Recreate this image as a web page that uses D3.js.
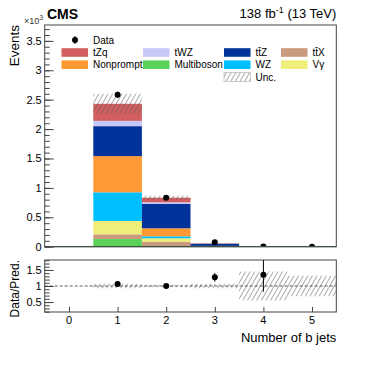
<!DOCTYPE html>
<html>
<head>
<meta charset="utf-8">
<script src="https://cdn.jsdelivr.net/npm/d3@7"></script>
<style>
  body { margin: 0; background: #fff; }
  svg { display: block; font-family: "Liberation Sans", Arial, sans-serif; }
</style>
</head>
<body>
<div id="chart-area"></div>
<script>
// values in units of 10^3 events, bins = number of b jets
var bins = [0, 1, 2, 3, 4, 5];
var multiboson = [0, 0.13, 0.01, 0.001, 0.0001, 0];
var ttX = [0, 0.08, 0.075, 0.006, 0.0005, 0.0001];
var vgamma = [0, 0.227, 0.058, 0.002, 0.0001, 0];
var wz = [0, 0.488, 0.034, 0.001, 0.0001, 0];
var nonprompt = [0, 0.615, 0.136, 0.004, 0.0002, 0.0001];
var ttZ = [0, 0.51, 0.413, 0.035, 0.0025, 0.0003];
var tWZ = [0, 0.09, 0.029, 0.003, 0.0002, 0];
var tZq = [0, 0.29, 0.078, 0.007, 0.0003, 0.0001];
var data = [null, 2.585, 0.833, 0.075, 0.0054, 0];
var dataErrLo = [0, 0.05, 0.029, 0.008, 0.0021, 0];
var dataErrHi = [0, 0.05, 0.029, 0.008, 0.004, 0];
var uncRel = [0, 0.07, 0.04, 0.07, 0.45, 0.32];
var mainTicks = [0, 0.5, 1, 1.5, 2, 2.5, 3, 3.5];
var ratioTicks = [0.5, 1, 1.5];

var procs = [
  {key: "multiboson", label: "Multiboson", color: "#58d358", values: multiboson},
  {key: "ttX", label: "tt\u0304X", color: "#c99a7d", values: ttX},
  {key: "vgamma", label: "V\u03b3", color: "#eeee78", values: vgamma},
  {key: "wz", label: "WZ", color: "#00bfff", values: wz},
  {key: "nonprompt", label: "Nonprompt", color: "#ff9933", values: nonprompt},
  {key: "ttZ", label: "tt\u0304Z", color: "#003399", values: ttZ},
  {key: "tWZ", label: "tWZ", color: "#c8c8f8", values: tWZ},
  {key: "tZq", label: "tZq", color: "#d25f5f", values: tZq}
];

var rows = bins.map(function(b, i){
  var r = {bin: b};
  procs.forEach(function(p){ r[p.key] = p.values[i]; });
  return r;
});
var totals = bins.map(function(b, i){
  return d3.sum(procs, function(p){ return p.values[i]; });
});

var W = 374, H = 367;
var left = 44.7, right = 336.3;
var mainTop = 25, mainBottom = 246.7;
var ratioTop = 260, ratioBottom = 312;

var svg = d3.select("#chart-area").append("svg")
  .attr("width", W).attr("height", H);

var defs = svg.append("defs");
var pat = defs.append("pattern")
  .attr("id", "hatch")
  .attr("patternUnits", "userSpaceOnUse")
  .attr("width", 4).attr("height", 4)
  .attr("patternTransform", "rotate(30)");
pat.append("line")
  .attr("x1", 0).attr("y1", 0).attr("x2", 0).attr("y2", 4)
  .attr("stroke", "#555").attr("stroke-width", 1);

defs.append("clipPath").attr("id", "clipMain").append("rect")
  .attr("x", left).attr("y", mainTop).attr("width", right - left).attr("height", mainBottom - mainTop);
defs.append("clipPath").attr("id", "clipRatio").append("rect")
  .attr("x", left).attr("y", ratioTop).attr("width", right - left).attr("height", ratioBottom - ratioTop);

var x = d3.scaleLinear().domain([-0.5, 5.5]).range([left, right]);
var y = d3.scaleLinear().domain([0, 3.77]).range([mainBottom, mainTop]);
var yr = d3.scaleLinear().domain([0.19, 1.81]).range([ratioBottom, ratioTop]);

// stacked histogram
var stack = d3.stack().keys(procs.map(function(p){ return p.key; }));
var series = stack(rows);
var gMain = svg.append("g").attr("clip-path", "url(#clipMain)");
series.forEach(function(s, k){
  gMain.append("g").selectAll("rect")
    .data(s)
    .enter().append("rect")
    .attr("x", function(d){ return x(d.data.bin - 0.5); })
    .attr("width", function(d){ return x(d.data.bin + 0.5) - x(d.data.bin - 0.5); })
    .attr("y", function(d){ return y(d[1]); })
    .attr("height", function(d){ return Math.max(0, y(d[0]) - y(d[1])); })
    .attr("fill", procs[k].color);
});

// uncertainty band
gMain.append("g").selectAll("rect")
  .data(bins.filter(function(b){ return totals[b] > 0; }))
  .enter().append("rect")
  .attr("x", function(b){ return x(b - 0.5); })
  .attr("width", function(b){ return x(b + 0.5) - x(b - 0.5); })
  .attr("y", function(b){ return y(totals[b] * (1 + uncRel[b])); })
  .attr("height", function(b){ return y(totals[b] * (1 - uncRel[b])) - y(totals[b] * (1 + uncRel[b])); })
  .attr("fill", "url(#hatch)");

// zero line
svg.append("line")
  .attr("x1", x(-0.5)).attr("x2", x(5.5))
  .attr("y1", y(0)).attr("y2", y(0))
  .attr("stroke", "#4f7f4f").attr("stroke-width", 1.2);

// data points
var dataBins = bins.filter(function(b){ return data[b] !== null; });
gMain.append("g").selectAll("line")
  .data(dataBins)
  .enter().append("line")
  .attr("x1", function(b){ return x(b); }).attr("x2", function(b){ return x(b); })
  .attr("y1", function(b){ return y(data[b] - dataErrLo[b]); })
  .attr("y2", function(b){ return y(data[b] + dataErrHi[b]); })
  .attr("stroke", "#000").attr("stroke-width", 1);
gMain.append("g").selectAll("circle")
  .data(dataBins)
  .enter().append("circle")
  .attr("cx", function(b){ return x(b); })
  .attr("cy", function(b){ return y(data[b]); })
  .attr("r", 3).attr("fill", "#000");

// frames
function frame(t, b){
  svg.append("rect")
    .attr("x", left).attr("y", t).attr("width", right - left).attr("height", b - t)
    .attr("fill", "none").attr("stroke", "#444").attr("stroke-width", 1);
}
frame(mainTop, mainBottom);
frame(ratioTop, ratioBottom);

// main y axis
var yAxis = d3.axisRight(y).tickValues(mainTicks).tickSize(9).tickFormat("");
svg.append("g").attr("transform", "translate(" + left + ",0)").call(yAxis)
  .call(function(g){ g.select(".domain").remove(); g.selectAll("line").attr("stroke", "#444"); });
var yMinor = d3.axisRight(y).tickValues(d3.range(0, 3.75, 0.1)).tickSize(5).tickFormat("");
svg.append("g").attr("transform", "translate(" + left + ",0)").call(yMinor)
  .call(function(g){ g.select(".domain").remove(); g.selectAll("line").attr("stroke", "#444"); });
svg.append("g").selectAll("text")
  .data(mainTicks)
  .enter().append("text")
  .attr("x", left - 3)
  .attr("y", function(d){ return y(d) + 4; })
  .attr("text-anchor", "end")
  .attr("font-size", 11)
  .text(function(d){ return d; });

// ratio panel
var gRatio = svg.append("g").attr("clip-path", "url(#clipRatio)");
gRatio.append("line")
  .attr("x1", x(-0.5)).attr("x2", x(5.5))
  .attr("y1", yr(1)).attr("y2", yr(1))
  .attr("stroke", "#333").attr("stroke-width", 0.8).attr("stroke-dasharray", "3,2");
gRatio.append("g").selectAll("rect")
  .data(bins.filter(function(b){ return totals[b] > 0; }))
  .enter().append("rect")
  .attr("x", function(b){ return x(b - 0.5); })
  .attr("width", function(b){ return x(b + 0.5) - x(b - 0.5); })
  .attr("y", function(b){ return yr(1 + uncRel[b]); })
  .attr("height", function(b){ return yr(1 - uncRel[b]) - yr(1 + uncRel[b]); })
  .attr("fill", "url(#hatch)");
var ratioBins = bins.filter(function(b){ return data[b] !== null && data[b] > 0 && totals[b] > 0; });
gRatio.append("g").selectAll("line")
  .data(ratioBins)
  .enter().append("line")
  .attr("x1", function(b){ return x(b); }).attr("x2", function(b){ return x(b); })
  .attr("y1", function(b){ return yr((data[b] - dataErrLo[b]) / totals[b]); })
  .attr("y2", function(b){ return yr((data[b] + dataErrHi[b]) / totals[b]); })
  .attr("stroke", "#000").attr("stroke-width", 1);
gRatio.append("g").selectAll("circle")
  .data(ratioBins)
  .enter().append("circle")
  .attr("cx", function(b){ return x(b); })
  .attr("cy", function(b){ return yr(data[b] / totals[b]); })
  .attr("r", 3).attr("fill", "#000");

var yrAxis = d3.axisRight(yr).tickValues(ratioTicks).tickSize(9).tickFormat("");
svg.append("g").attr("transform", "translate(" + left + ",0)").call(yrAxis)
  .call(function(g){ g.select(".domain").remove(); g.selectAll("line").attr("stroke", "#444"); });
var yrMinor = d3.axisRight(yr).tickValues(d3.range(0.2, 1.81, 0.1)).tickSize(5).tickFormat("");
svg.append("g").attr("transform", "translate(" + left + ",0)").call(yrMinor)
  .call(function(g){ g.select(".domain").remove(); g.selectAll("line").attr("stroke", "#444"); });
svg.append("g").selectAll("text")
  .data(ratioTicks)
  .enter().append("text")
  .attr("x", left - 3)
  .attr("y", function(d){ return yr(d) + 4; })
  .attr("text-anchor", "end")
  .attr("font-size", 11)
  .text(function(d){ return d; });

// x axis labels
var xAxis = d3.axisTop(x).tickValues(bins).tickSize(5).tickFormat("");
svg.append("g").attr("transform", "translate(0," + ratioBottom + ")").call(xAxis)
  .call(function(g){ g.select(".domain").remove(); g.selectAll("line").attr("stroke", "#444"); });
svg.append("g").selectAll("text")
  .data(bins)
  .enter().append("text")
  .attr("x", function(b){ return x(b); })
  .attr("y", 324)
  .attr("text-anchor", "middle")
  .attr("font-size", 11)
  .text(function(b){ return b; });

svg.append("text")
  .attr("x", right).attr("y", 342)
  .attr("text-anchor", "end").attr("font-size", 13)
  .text("Number of b jets");

svg.append("text")
  .attr("transform", "translate(19," + mainTop + ") rotate(-90)")
  .attr("text-anchor", "end").attr("font-size", 13.5)
  .text("Events");
svg.append("text")
  .attr("transform", "translate(19," + ratioTop + ") rotate(-90)")
  .attr("text-anchor", "end").attr("font-size", 12)
  .text("Data/Pred.");

// header
var ex = svg.append("text").attr("x", 24).attr("y", 24).attr("font-size", 9).attr("fill", "#333");
ex.append("tspan").text("\u00d710");
ex.append("tspan").attr("dy", -4).attr("font-size", 7).text("3");
svg.append("text")
  .attr("x", 47).attr("y", 19)
  .attr("font-size", 14).attr("font-weight", "bold")
  .text("CMS");
var lumi = svg.append("text")
  .attr("x", right).attr("y", 18)
  .attr("text-anchor", "end").attr("font-size", 13);
lumi.append("tspan").text("138 fb");
lumi.append("tspan").attr("dy", -5).attr("font-size", 9).text("-1");
lumi.append("tspan").attr("dy", 5).text(" (13 TeV)");

// legend
var colX = [61.5, 143, 224, 281];
var rowY = [40, 52.5, 64.7, 77];
var legendItems = [
  {label: "tZq", col: 0, row: 1, fill: "#d25f5f"},
  {label: "tWZ", col: 1, row: 1, fill: "#c8c8f8"},
  {label: "tt\u0304Z", col: 2, row: 1, fill: "#003399"},
  {label: "tt\u0304X", col: 3, row: 1, fill: "#c99a7d"},
  {label: "Nonprompt", col: 0, row: 2, fill: "#ff9933"},
  {label: "Multiboson", col: 1, row: 2, fill: "#58d358"},
  {label: "WZ", col: 2, row: 2, fill: "#00bfff"},
  {label: "V\u03b3", col: 3, row: 2, fill: "#eeee78"},
  {label: "Unc.", col: 2, row: 3, fill: "url(#hatch)"}
];
var leg = svg.append("g");
legendItems.forEach(function(it){
  var sx = colX[it.col], sy = rowY[it.row];
  leg.append("rect")
    .attr("x", sx).attr("y", sy - 4.3).attr("width", 26.5).attr("height", 8.6)
    .attr("fill", it.fill)
    .attr("stroke", it.label === "Unc." ? "#aaa" : "none").attr("stroke-width", 0.6);
  leg.append("text")
    .attr("x", sx + 31.5).attr("y", sy + 3.6)
    .attr("font-size", 10)
    .text(it.label);
});
leg.append("line")
  .attr("x1", 75).attr("x2", 75).attr("y1", rowY[0] - 4).attr("y2", rowY[0] + 4)
  .attr("stroke", "#000");
leg.append("circle").attr("cx", 75).attr("cy", rowY[0]).attr("r", 3).attr("fill", "#000");
leg.append("text").attr("x", 93).attr("y", rowY[0] + 3.6).attr("font-size", 10).text("Data");
</script>
</body>
</html>
